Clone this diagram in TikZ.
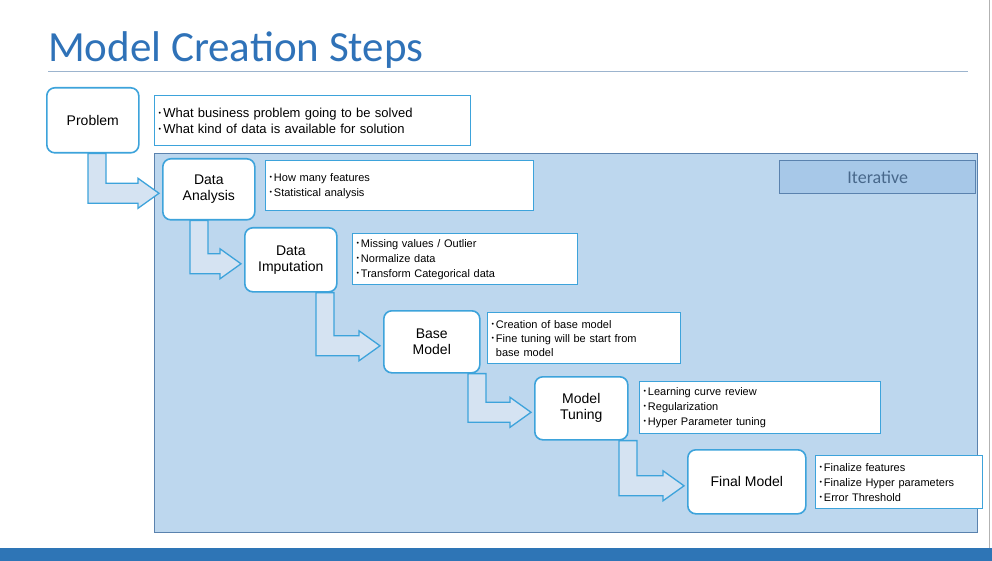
\documentclass[tikz,border=0pt]{standalone}
\usepackage{fontspec}
\setmainfont{Liberation Sans}
\newfontfamily\titlefont{Carlito}
\usetikzlibrary{calc}
\definecolor{ttl}{HTML}{2F72B8}
\definecolor{edge}{HTML}{3DA3DB}
\definecolor{iterfill}{HTML}{BDD7EE}
\definecolor{iteredge}{HTML}{5A82AE}
\definecolor{tagfill}{HTML}{A7C8E8}
\definecolor{arrfill}{HTML}{D5E3F2}
\definecolor{barblue}{HTML}{2E75B6}
\tikzset{
 stepbox/.style={draw=edge,line width=1.6pt,fill=white,rounded corners=8pt,align=center,anchor=north west,inner sep=0pt,font=\fontsize{14}{16}\selectfont},
 info/.style={draw=edge,line width=1.4pt,fill=white,align=left,anchor=north west,inner xsep=4pt,inner ysep=0pt,font=\fontsize{11}{15}\selectfont},
 arr/.style={draw=edge,line width=1.3pt,fill=arrfill,line join=miter},
}
\newcommand\bl{{\raisebox{2pt}{\fontsize{7}{7}\selectfont\textbullet}}\,}
\newcommand\barrow[3]{\draw[arr] let \p1=(#1.south west), \p2=(#2.west) in
 (\x1+#3pt,\y1) -- (\x1+#3pt+18pt,\y1) -- (\x1+#3pt+18pt,\y2+6pt) -- (\x2-24pt,\y2+6pt) -- (\x2-24pt,\y2+11pt)
 -- (\x2-3pt,\y2-4pt) -- (\x2-24pt,\y2-19pt) -- (\x2-24pt,\y2-14pt) -- (\x1+#3pt,\y2-14pt) -- cycle;}
\begin{document}
\begin{tikzpicture}[x=1pt,y=-1pt]
\useasboundingbox (0,0) rectangle (992,561);
\fill[white] (0,0) rectangle (992,561);
\node[anchor=base west,text=ttl,font=\titlefont\fontsize{43}{46}\selectfont,inner sep=0pt] (title) at (48,62) {Model Creation Steps};
\draw[color=iteredge!60,line width=0.8pt] (48,71) coordinate (l1) -- (968,71) coordinate (l2);
\fill[barblue] (0,548) rectangle (992,561);
\draw[gray!60,line width=0.8pt] (989,0) coordinate (g1) -- (989,548) coordinate (g2);
\node[draw=iteredge,line width=1.4pt,fill=iterfill,anchor=north west,minimum width=823pt,minimum height=379pt,inner sep=0pt] (iter) at (154,153) {};
\node[draw=iteredge,line width=1.4pt,fill=tagfill,anchor=north west,minimum width=196pt,minimum height=33pt,inner sep=0pt,text=iteredge!80!black,font=\titlefont\fontsize{18}{20}\selectfont] (tag) at (779,160) {Iterative};
\node[stepbox,minimum width=92pt,minimum height=65pt] (prob) at (46,87) {Problem};
\node[info,text width=308pt,minimum height=50pt,font=\fontsize{13}{16}\selectfont] (probi) at (154,95) {\bl What business problem going to be solved\\\bl What kind of data is available for solution};
\node[stepbox,minimum width=92pt,minimum height=61pt] (da) at (162,158) {Data\\Analysis};
\node[info,text width=260pt,minimum height=50pt] (dai) at (265,160) {\bl How many features\\\bl Statistical analysis};
\node[stepbox,minimum width=92pt,minimum height=64pt] (di) at (244,227) {Data\\Imputation};
\node[info,text width=217pt,minimum height=51pt] (dii) at (352,233) {\bl Missing values / Outlier\\\bl Normalize data\\\bl Transform Categorical data};
\node[stepbox,minimum width=96pt,minimum height=62pt] (bm) at (383,310) {Base\\Model};
\node[info,text width=185pt,minimum height=51pt,font=\fontsize{11}{14}\selectfont] (bmi) at (487,312) {\bl Creation of base model\\\bl Fine tuning will be start from\\\hphantom{\bl}base model};
\node[stepbox,minimum width=93pt,minimum height=63pt] (mt) at (534,376) {Model\\Tuning};
\node[info,text width=233pt,minimum height=52pt] (mti) at (639,381) {\bl Learning curve review\\\bl Regularization\\\bl Hyper Parameter tuning};
\node[stepbox,minimum width=118pt,minimum height=64pt] (fm) at (687,449) {Final Model};
\node[info,text width=159pt,minimum height=53pt] (fmi) at (815,455) {\bl Finalize features\\\bl Finalize Hyper parameters\\\bl Error Threshold};
\barrow{prob}{da}{42}
\barrow{da}{di}{28}
\barrow{di}{bm}{72}
\barrow{bm}{mt}{85}
\barrow{mt}{fm}{85}
\end{tikzpicture}
\end{document}
